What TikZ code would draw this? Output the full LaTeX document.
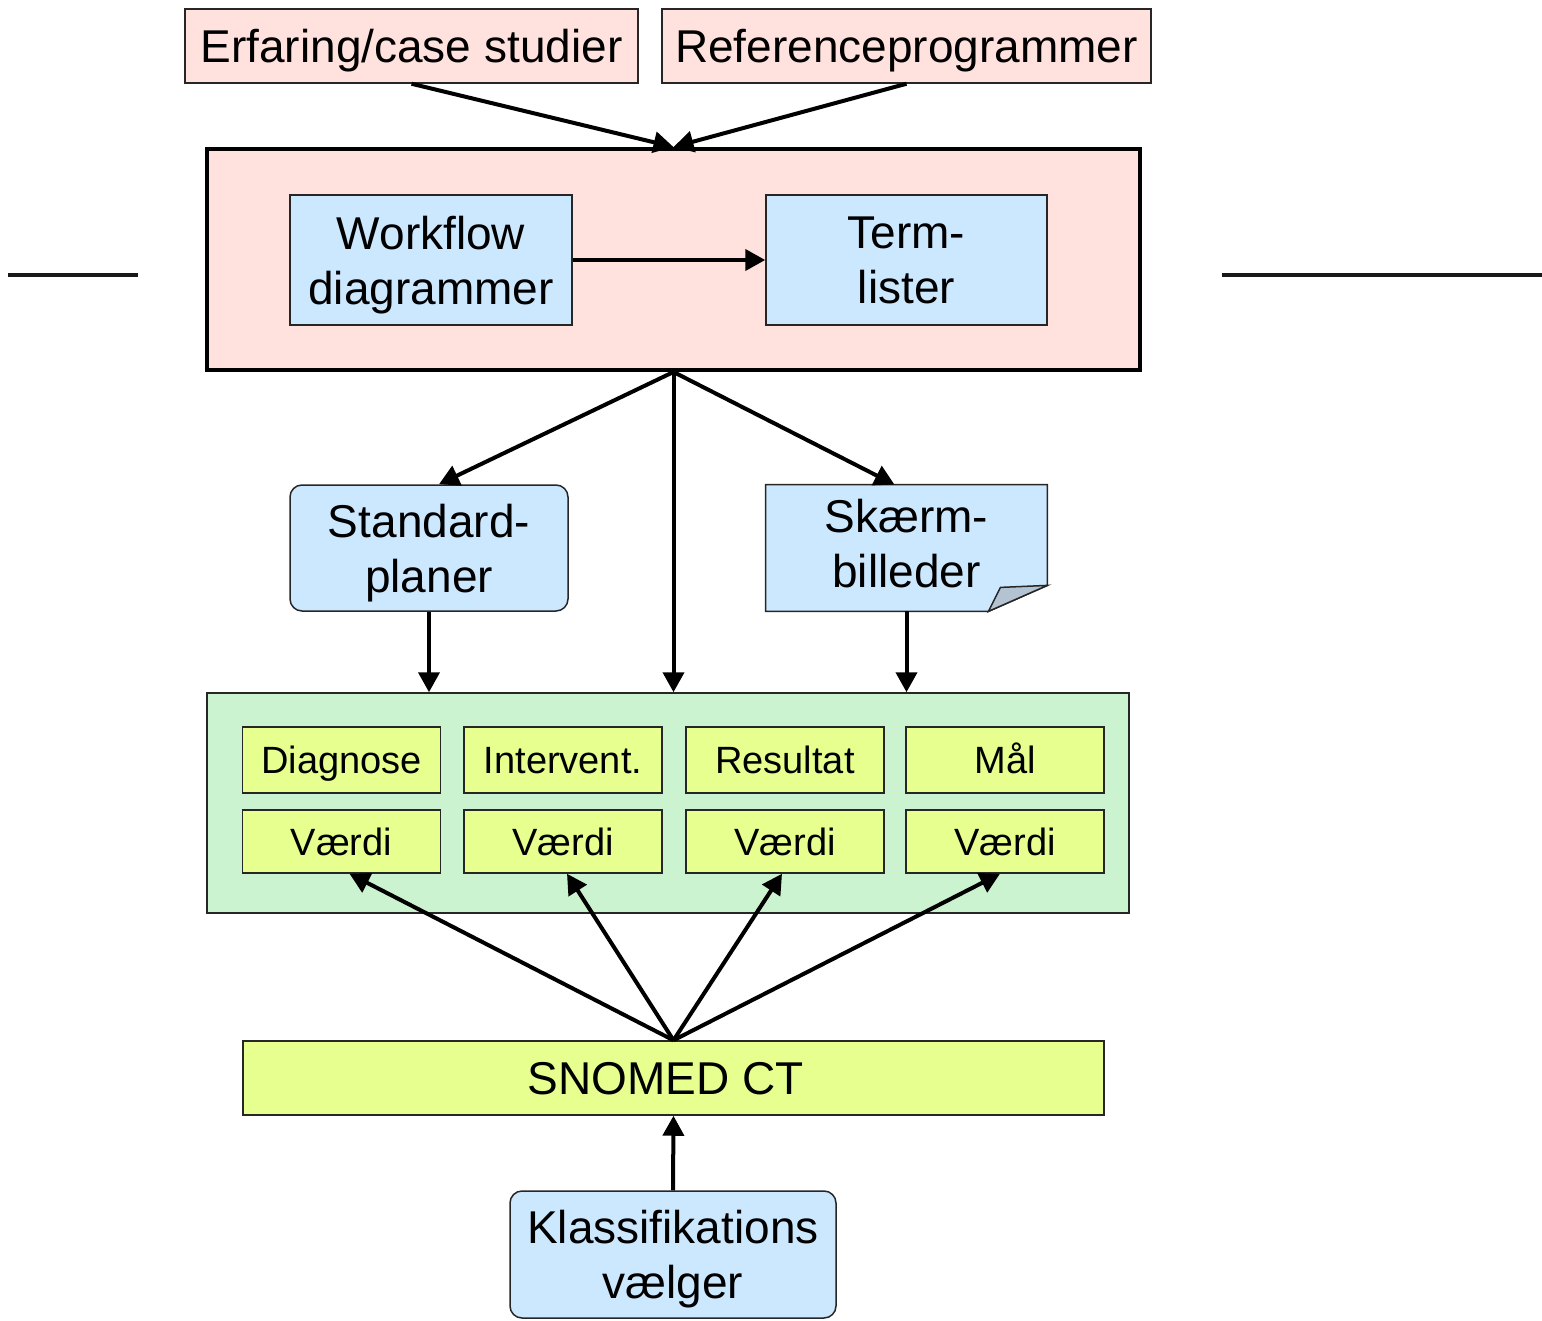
\documentclass[tikz,border=0pt]{standalone}
\usepackage{fontspec}
\setmainfont{Liberation Sans}
\usetikzlibrary{arrows.meta,positioning}
\definecolor{sourcepink}{HTML}{FFE1DD}
\definecolor{toolblue}{HTML}{CCE8FF}
\definecolor{modelgreen}{HTML}{CCF3CF}
\definecolor{termyellow}{HTML}{E6FF8F}
\definecolor{foldgray}{HTML}{B4C3D2}
\tikzset{
    big font/.style={font=\fontsize{23}{27.5}\selectfont,text depth=0pt},
    small font/.style={font=\fontsize{19}{22}\selectfont,text height=13.7pt,text depth=0pt},
    thin box/.style={draw=black!85,line width=0.75pt,inner sep=0pt,align=center},
    source box/.style={thin box,big font,fill=sourcepink,minimum height=37pt},
    tool box/.style={thin box,big font,fill=toolblue,minimum width=141pt,minimum height=65pt},
    rounded tool/.style={tool box,rounded corners=6pt},
    term box/.style={thin box,small font,fill=termyellow,minimum width=99pt},
    frame box/.style={draw=black,inner sep=0pt},
    arr/.style={-{Triangle[length=10pt,width=10.5pt]},line width=2pt},
    rule line/.style={line width=1.6pt,black!90},
}

\begin{document}
\begin{tikzpicture}[x=0.5pt,y=-0.5pt]
    \useasboundingbox (0,0) rectangle (1542,1321);

    % sources
    \node[source box,minimum width=226.5pt] (erfaring) at (411.5,46) {Erfaring/case studier};
    \node[source box,minimum width=244.5pt] (reference) at (906.5,46) {Referenceprogrammer};

    % analysis frame
    \node[frame box,fill=sourcepink,line width=2pt,minimum width=466.5pt,minimum height=110.5pt]
        (analyse) at (673.5,259.5) {};
    \node[tool box] (workflow) at (431,260) {Workflow\\diagrammer};
    \node[tool box,minimum width=140.5pt] (term) at (906.5,260) {Term-\\lister};
    \draw[arr] (workflow) -- (term);

    \draw[arr] (erfaring.south) -- (analyse.north);
    \draw[arr] (reference.south) -- (analyse.north);

    % products
    \node[rounded tool,minimum width=139pt,minimum height=63pt] (standard) at (429,548) {Standard-\\planer};
    \node[minimum width=140.5pt,minimum height=63pt,inner sep=0pt] (skaerm) at (906.5,548) {};
    \draw[thin box,fill=toolblue] (skaerm.north west) -- (skaerm.north east) -- ([yshift=13pt]skaerm.south east)
        -- ([xshift=-29.5pt]skaerm.south east) -- (skaerm.south west) -- cycle;
    \draw[thin box,fill=foldgray] ([xshift=-29.5pt]skaerm.south east) -- ([xshift=-23.5pt,yshift=12pt]skaerm.south east)
        -- ([yshift=13pt]skaerm.south east) -- cycle;
    \node[big font,align=center] (skaermtext) at (906.5,543) {Skærm-\\billeder};

    % model
    \node[frame box,draw=black!85,line width=0.75pt,fill=modelgreen,minimum width=461pt,minimum height=110pt]
        (model) at (668,803) {};
    \node[term box,minimum height=33pt] (diagnose) at (341.5,760) {Diagnose};
    \node[term box,minimum height=33pt] (intervent) at (563,760) {Intervent.};
    \node[term box,minimum height=33pt] (resultat) at (785,760) {Resultat};
    \node[term box,minimum height=33pt] (maal) at (1005,760) {Mål};
    \node[term box,minimum height=31.5pt] (vaerdia) at (341.5,841.5) {Værdi};
    \node[term box,minimum height=31.5pt] (vaerdib) at (563,841.5) {Værdi};
    \node[term box,minimum height=31.5pt] (vaerdic) at (785,841.5) {Værdi};
    \node[term box,minimum height=31.5pt] (vaerdid) at (1005,841.5) {Værdi};

    \draw[arr] (analyse.south) -- ([xshift=5pt]standard.north);
    \draw[arr] (analyse.south) -- ([xshift=-6pt]skaerm.north);
    \draw[arr] (analyse.south) -- (analyse.south |- model.north);
    \draw[arr] (standard.south) -- (standard.south |- model.north);
    \draw[arr] (skaerm.south) -- (skaerm.south |- model.north);

    % terminology
    \node[thin box,big font,fill=termyellow,minimum width=430.5pt,minimum height=37pt,text height=16.5pt] (snomed) at (673.5,1078) {\hspace*{-8pt}SNOMED CT};
    \node[rounded tool,minimum width=163pt,minimum height=63.5pt] (klass) at (673,1254.5) {Klassifikations\\vælger};

    \draw[arr] (snomed.north) -- ([xshift=4pt]vaerdia.south);
    \draw[arr] (snomed.north) -- ([xshift=2pt]vaerdib.south);
    \draw[arr] (snomed.north) -- ([xshift=-1.5pt]vaerdic.south);
    \draw[arr] (snomed.north) -- ([xshift=-2.5pt]vaerdid.south);
    \draw[arr] (klass.north) -- (snomed.south);

    % side rules
    \draw[rule line] (8,275) -- (138,275);
    \draw[rule line] (1222,275) -- (1542,275);
\end{tikzpicture}
\end{document}
